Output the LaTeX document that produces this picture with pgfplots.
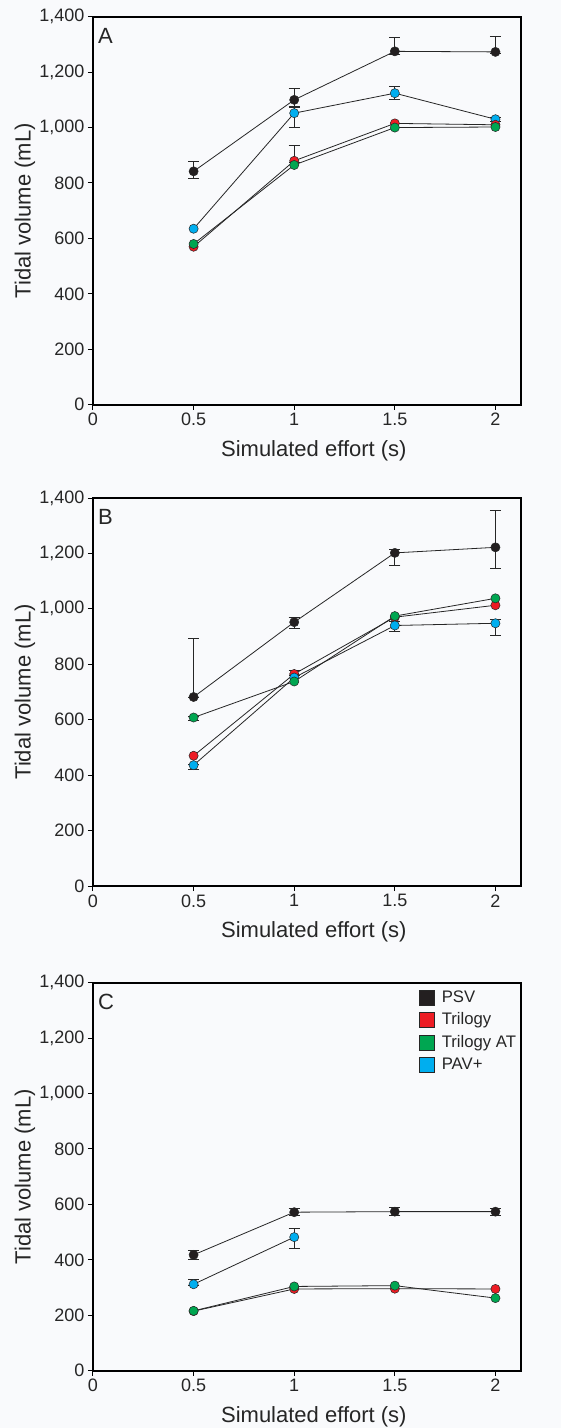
\documentclass[border=0pt]{standalone}
\usepackage{pgfplots}
\pgfplotsset{compat=1.18}
\usepackage{fontspec}
\setmainfont{Liberation Sans}

\definecolor{psv}{RGB}{35,31,32}
\definecolor{tril}{RGB}{237,28,36}
\definecolor{trilat}{RGB}{0,166,81}
\definecolor{pav}{RGB}{0,174,239}
\definecolor{bgcol}{RGB}{249,250,252}

\pgfplotsset{
  panel/.style={
    scale only axis, width=428pt, height=388pt,
    xmin=0, xmax=2.127, ymin=0, ymax=1400,
    xtick={0,0.5,1,1.5,2}, ytick={0,200,...,1400},
    xtick pos=bottom, ytick pos=left,
    tick align=outside, major tick length=5pt,
    axis line style={line width=1.6pt},
    every tick/.style={black, line width=1pt},
    axis background/.style={fill=bgcol},
    /pgf/number format/.cd, 1000 sep={,}, assume math mode=true,
    /pgfplots/.cd,
    tick label style={font=\fontsize{18}{21}\selectfont, text=black!85},
    xlabel={Simulated effort (s)}, ylabel={Tidal volume (mL)},
    every axis x label/.style={at={(axis description cs:0.516,-0.118)}, anchor=center,
      font=\fontsize{22}{26}\selectfont, text=black!85},
    every axis y label/.style={at={(axis description cs:-0.159,0.5)}, rotate=90, anchor=center,
      font=\fontsize{22}{26}\selectfont, text=black!85},
    clip=false,
  },
  ser/.style={black!85, line width=0.8pt, mark=*, mark size=4.6pt,
    mark options={draw=black!85, line width=0.5pt, fill=#1}},
  errb/.style={draw=none, mark=none, forget plot,
    error bars/.cd, y dir=both, y explicit,
    error bar style={draw=black!85, line width=0.8pt},
    error mark options={draw=black!85, rotate=90, mark size=5.5pt, line width=0.8pt}},
}
\newcommand{\panellabel}[1]{\node[anchor=north west, inner sep=0pt, font=\fontsize{22}{26}\selectfont, text=black!85]
  at (rel axis cs:0,1) [xshift=5pt, yshift=-11pt] {#1};}

\begin{document}
\begin{tikzpicture}
\path[use as bounding box, fill=bgcol] (-93pt,-1023.3pt) rectangle (468pt,404.7pt);

% ---- A ----
\begin{axis}[panel, at={(0pt,0pt)}, anchor=south west]
  \addplot[errb] coordinates {(0.5,842) += (0,35) -= (0,27) (1,1100) += (0,42) -= (0,28)
    (1.5,1275) += (0,50) -= (0,10) (2,1273) += (0,55) -= (0,5)};
  \addplot[errb] coordinates {(1,880) += (0,55) -= (0,5)};
  \addplot[errb] coordinates {(1,1052) += (0,23) -= (0,52) (1.5,1124) += (0,23) -= (0,21) (2,1030) += (0,8) -= (0,8)};
  \addplot[ser=psv] coordinates {(0.5,842) (1,1100) (1.5,1275) (2,1273)};
  \addplot[ser=pav] coordinates {(0.5,635) (1,1052) (1.5,1124) (2,1030)};
  \addplot[ser=tril] coordinates {(0.5,570) (1,880) (1.5,1015) (2,1010)};
  \addplot[ser=trilat] coordinates {(0.5,580) (1,865) (1.5,1000) (2,1002)};
  \panellabel{A}
\end{axis}

% ---- B ----
\begin{axis}[panel, at={(0pt,-481.3pt)}, anchor=south west]
  \addplot[errb] coordinates {(0.5,682) += (0,210) -= (0,3) (1,952) += (0,17) -= (0,22)
    (1.5,1202) += (0,12) -= (0,45) (2,1222) += (0,135) -= (0,75)};
  \addplot[errb] coordinates {(1,765) += (0,12) -= (0,5)};
  \addplot[errb] coordinates {(0.5,608) += (0,3) -= (0,10)};
  \addplot[errb] coordinates {(0.5,436) += (0,3) -= (0,17) (1.5,940) += (0,15) -= (0,22) (2,948) += (0,14) -= (0,45)};
  \addplot[ser=psv] coordinates {(0.5,682) (1,952) (1.5,1202) (2,1222)};
  \addplot[ser=tril] coordinates {(0.5,470) (1,765) (1.5,970) (2,1013)};
  \addplot[ser=pav] coordinates {(0.5,436) (1,752) (1.5,940) (2,948)};
  \addplot[ser=trilat] coordinates {(0.5,608) (1,738) (1.5,974) (2,1038)};
  \panellabel{B}
\end{axis}

% ---- C ----
\begin{axis}[panel, at={(0pt,-966pt)}, anchor=south west,
    legend image code/.code={\draw[#1, draw=black!85, line width=0.5pt] (0pt,-7.5pt) rectangle (15pt,7.5pt);},
    legend style={draw=none, fill=none, at={(axis description cs:0.762,0.985)}, anchor=north west,
      inner sep=0pt, font=\fontsize{16.7}{20}\selectfont, text=black!85, row sep=5pt,
      /tikz/every odd column/.append style={column sep=5pt}},
    legend cell align=left]
  \addlegendimage{fill=psv}\addlegendentry{PSV}
  \addlegendimage{fill=tril}\addlegendentry{Trilogy}
  \addlegendimage{fill=trilat}\addlegendentry{Trilogy AT}
  \addlegendimage{fill=pav}\addlegendentry{PAV+}
  \addplot[errb] coordinates {(0.5,418) +- (0,15) (1,572) +- (0,12) (1.5,574) +- (0,15) (2,574) +- (0,13)};
  \addplot[errb] coordinates {(0.5,312) += (0,16) -= (0,3) (1,482) += (0,30) -= (0,42)};
  \addplot[ser=psv, forget plot] coordinates {(0.5,418) (1,572) (1.5,574) (2,574)};
  \addplot[ser=pav, forget plot] coordinates {(0.5,312) (1,482)};
  \addplot[ser=tril, forget plot] coordinates {(0.5,215) (1,295) (1.5,296) (2,295)};
  \addplot[ser=trilat, forget plot] coordinates {(0.5,216) (1,304) (1.5,307) (2,262)};
  \panellabel{C}
\end{axis}
\end{tikzpicture}
\end{document}
